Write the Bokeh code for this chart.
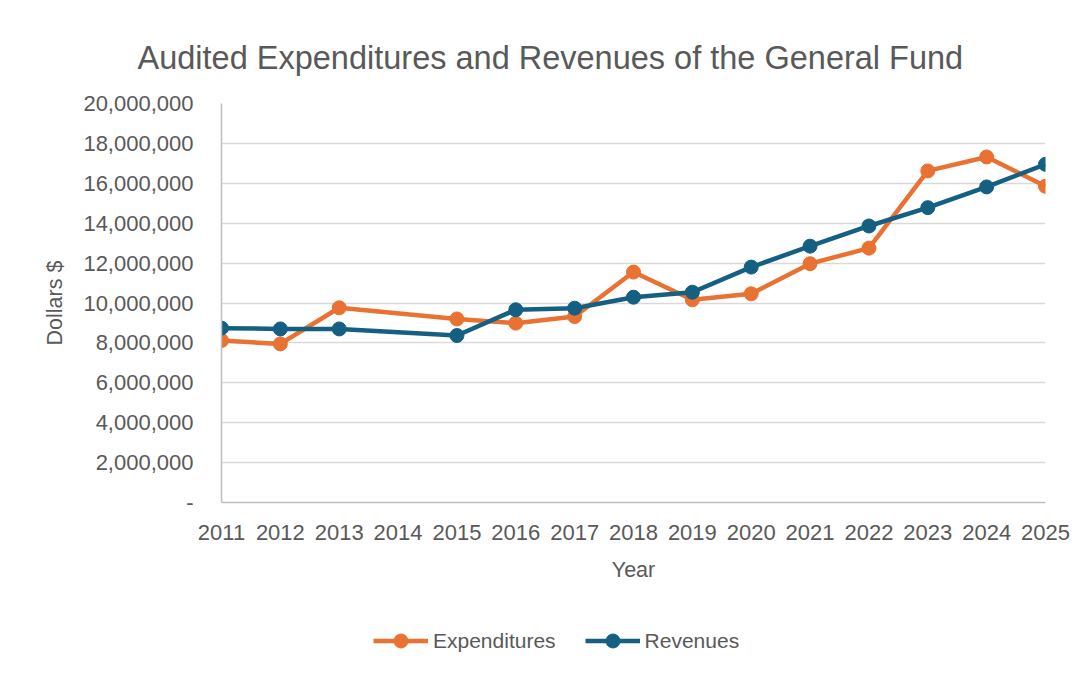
from bokeh.plotting import figure
from bokeh.layouts import column
from bokeh.models import ColumnDataSource, FixedTicker, NumeralTickFormatter, Range1d, Legend, LegendItem
from bokeh.embed import file_html
from bokeh.resources import INLINE

years_exp = [2011, 2012, 2013, 2015, 2016, 2017, 2018, 2019, 2020, 2021, 2022, 2023, 2024, 2025]
expenditures = [8120000, 7950000, 9760000, 9200000, 8990000, 9320000, 11550000, 10160000,
                10460000, 11970000, 12750000, 16620000, 17320000, 15850000]
years_rev = [2011, 2012, 2013, 2015, 2016, 2017, 2018, 2019, 2020, 2021, 2022, 2023, 2024, 2025]
revenues = [8740000, 8700000, 8700000, 8370000, 9660000, 9740000, 10290000, 10540000,
            11800000, 12850000, 13860000, 14780000, 15820000, 16950000]
year_ticks = list(range(2011, 2026))
y_ticks = list(range(0, 20000001, 2000000))
series_names = ["Expenditures", "Revenues"]

TEXT = "#595959"
FONT = "Liberation Sans"
ORANGE = "#E97132"
BLUE = "#156082"

p = figure(width=1072, height=610, output_backend="svg", toolbar_location=None,
           x_range=Range1d(2011, 2025), y_range=Range1d(0, 20000000),
           min_border_left=221, min_border_right=27, min_border_top=103, min_border_bottom=108)

p.title.text = "Audited Expenditures and Revenues of the General Fund"
p.title.text_font = FONT
p.title.text_font_size = "32.5px"
p.title.text_font_style = "normal"
p.title.text_color = TEXT
p.title.align = "left"
p.title.offset = -84
p.title.standoff = 56

p.outline_line_color = None
p.xgrid.grid_line_color = None
p.ygrid.grid_line_color = "#d9d9d9"
p.ygrid.grid_line_width = 1.5

p.xaxis.ticker = FixedTicker(ticks=year_ticks)
p.yaxis.ticker = FixedTicker(ticks=y_ticks)
p.yaxis.formatter = NumeralTickFormatter(format="0,0")
p.yaxis.major_label_overrides = {0: "-"}

for ax in (p.xaxis[0], p.yaxis[0]):
    ax.axis_line_color = "#bfbfbf"
    ax.axis_line_width = 1.5
    ax.major_tick_line_color = None
    ax.minor_tick_line_color = None
    ax.major_label_text_font = FONT
    ax.major_label_text_font_size = "22px"
    ax.major_label_text_color = TEXT
    ax.axis_label_text_font = FONT
    ax.axis_label_text_font_size = "21.5px"
    ax.axis_label_text_font_style = "normal"
    ax.axis_label_text_color = TEXT

p.xaxis.axis_label = "Year"
p.xaxis.major_label_standoff = 16
p.xaxis.axis_label_standoff = 15
p.yaxis.axis_label = "Dollars $"
p.yaxis.major_label_standoff = 22
p.yaxis.axis_label_standoff = 13

src_e = ColumnDataSource(dict(x=years_exp, y=expenditures))
src_r = ColumnDataSource(dict(x=years_rev, y=revenues))

p.line("x", "y", source=src_e, line_color=ORANGE, line_width=4.5)
p.scatter("x", "y", source=src_e, size=14, fill_color=ORANGE, line_color=ORANGE)
p.line("x", "y", source=src_r, line_color=BLUE, line_width=4.5)
p.scatter("x", "y", source=src_r, size=14, fill_color=BLUE, line_color=BLUE)

# legend strip below the chart (series drawn out of its visible range, only legend shows)
lg = figure(width=1072, height=50, output_backend="svg", toolbar_location=None,
            x_range=Range1d(0, 1), y_range=Range1d(0, 1), x_axis_type=None, y_axis_type=None,
            min_border_left=0, min_border_right=0, min_border_top=0, min_border_bottom=0)
lg.outline_line_color = None
lg.xgrid.grid_line_color = None
lg.ygrid.grid_line_color = None
items = []
for name, col, src in zip(series_names, [ORANGE, BLUE], [src_e, src_r]):
    l = lg.line("x", "y", source=src, line_color=col, line_width=4.5)
    s = lg.scatter("x", "y", source=src, size=14, fill_color=col, line_color=col)
    items.append(LegendItem(label=name, renderers=[l, s]))

legend = Legend(items=items, orientation="horizontal", location=(152, 2),
                glyph_width=55, glyph_height=35, label_standoff=5, spacing=29,
                label_text_font=FONT, label_text_font_size="21px", label_text_color=TEXT,
                border_line_color=None, background_fill_alpha=0, margin=0, padding=0)
lg.add_layout(legend)

open("out.html", "w").write(file_html(column(p, lg, spacing=0), INLINE))
